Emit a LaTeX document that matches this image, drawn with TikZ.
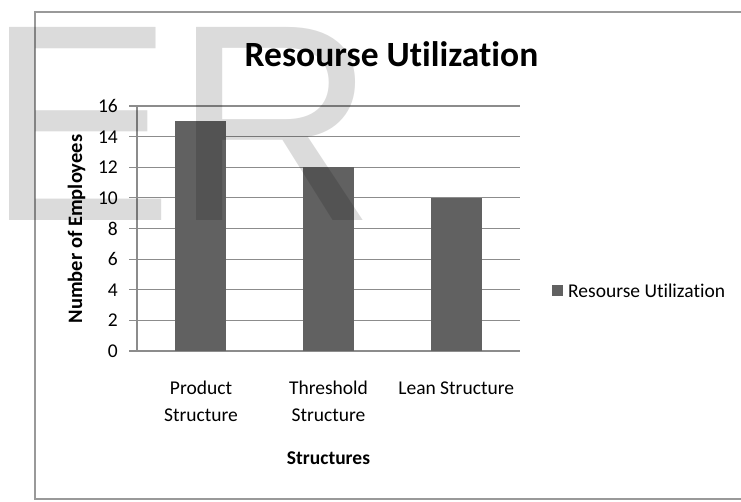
\documentclass[tikz,border=0pt]{standalone}
\usepackage{fontspec}
\setmainfont{Carlito}[Ligatures=NoCommon]
\newfontfamily\wmfont{Liberation Sans}
\begin{document}
\begin{tikzpicture}[x=1pt,y=-1pt,
  frameline/.style={draw=black!40,line width=2pt},
  gridline/.style={draw=black!45,line width=1.2pt},
  barfill/.style={fill=black!62,draw=none},
  ticklab/.style={anchor=base east,inner sep=0pt,font=\fontsize{19.5}{23}\selectfont},
  catlab/.style={anchor=base,inner sep=0pt,font=\fontsize{19.5}{23}\selectfont},
  boldlab/.style={inner sep=0pt,font=\fontsize{19.5}{23}\selectfont\bfseries},
  watermark/.style={anchor=base west,inner sep=0pt,text=black,text opacity=0.14,font=\wmfont\fontsize{280.7}{300}\selectfont}]
\useasboundingbox (0,0) rectangle (741,501);
% frame (right side is cut off)
\coordinate (fa) at (745,12);
\coordinate (fb) at (35,12);
\coordinate (fc) at (35,499);
\coordinate (fd) at (745,499);
\draw[frameline] (fa) -- (fb) -- (fc) -- (fd);
% grid and ticks
\foreach \k/\yy in {0/351,2/320.375,4/289.75,6/259.125,8/228.5,10/197.875,12/167.25,14/136.625,16/106}{
  \coordinate (gl\k) at (129,\yy);
  \coordinate (gr\k) at (520,\yy);
  \draw[gridline] (gl\k) -- (gr\k);
  \node[ticklab] (t\k) at (118,\yy+6.5) {\k};
}
\coordinate (ya) at (137,106);
\coordinate (yb) at (137,351);
\draw[gridline] (ya) -- (yb);
% bars
\fill[barfill] (175.3,121.3) rectangle (226.3,351);
\fill[barfill] (303,167.25) rectangle (354,351);
\fill[barfill] (430.7,197.9) rectangle (481.7,351);
% title
\node[inner sep=0pt,anchor=base,font=\fontsize{35.5}{40}\selectfont\bfseries] (title) at (391.5,66) {Resourse Utilization};
% y axis title
\node[boldlab,rotate=90,anchor=base,font=\fontsize{20.5}{24}\selectfont\bfseries] (ytitle) at (82,229) {Number of Employees};
% category labels
\node[catlab] (c1a) at (201,394) {Product};
\node[catlab] (c1b) at (201,421) {Structure};
\node[catlab] (c2a) at (328.5,394) {Threshold};
\node[catlab] (c2b) at (328.5,421) {Structure};
\node[catlab] (c3a) at (456.2,394) {Lean Structure};
\node[boldlab,anchor=base] (xtitle) at (328.5,464) {Structures};
% legend
\fill[barfill] (552,285) rectangle (563,296);
\node[catlab,anchor=base west] (leg) at (568,297) {Resourse Utilization};
% watermark
\node[watermark] (wm) at (-14,220) {ER};
\end{tikzpicture}
\end{document}
